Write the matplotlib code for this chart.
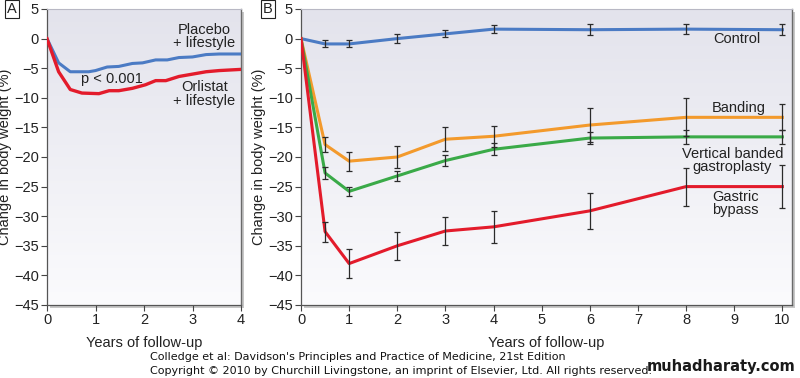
import numpy as np
import matplotlib
matplotlib.use("Agg")
import matplotlib.pyplot as plt
from matplotlib.patches import Rectangle
from matplotlib.colors import LinearSegmentedColormap

# ---------------- Data ----------------
# Panel A
a_years = [0, 0.24, 0.48, 0.86, 1.0, 1.24, 1.48, 1.76, 1.97, 2.24, 2.48, 2.72, 3.0, 3.28, 3.55, 4.0]
a_placebo = [0, -4.1, -5.6, -5.6, -5.4, -4.8, -4.7, -4.2, -4.1, -3.6, -3.6, -3.2, -3.1, -2.7, -2.6, -2.6]
a_orlistat_years = [0, 0.24, 0.48, 0.72, 1.07, 1.28, 1.48, 1.76, 2.03, 2.24, 2.45, 2.72, 3.0, 3.28, 3.55, 4.0]
a_orlistat = [0, -5.6, -8.6, -9.2, -9.3, -8.8, -8.8, -8.4, -7.8, -7.1, -7.1, -6.4, -6.0, -5.6, -5.4, -5.2]

# Panel B
b_years = [0, 0.5, 1, 2, 3, 4, 6, 8, 10]
control = [0, -0.9, -0.9, 0.0, 0.8, 1.6, 1.5, 1.6, 1.5]
control_err = [0, 0.6, 0.6, 0.7, 0.6, 0.7, 0.95, 0.9, 0.95]
banding = [0, -17.9, -20.7, -20.0, -17.0, -16.5, -14.6, -13.3, -13.3]
banding_err = [0, 1.2, 1.6, 1.8, 2.0, 1.8, 2.8, 3.2, 2.2]
vbg = [0, -22.7, -25.8, -23.2, -20.6, -18.7, -16.8, -16.6, -16.6]
vbg_err = [0, 1.0, 0.8, 0.9, 0.9, 1.0, 1.0, 1.2, 1.2]
bypass = [0, -32.6, -38.0, -35.0, -32.5, -31.8, -29.1, -25.0, -25.0]
bypass_err = [0, 1.7, 2.4, 2.4, 2.3, 2.7, 3.0, 3.2, 3.6]

yticks = list(range(-45, 6, 5))

BLUE = "#4b7bc4"
RED = "#e31b2b"
ORANGE = "#f39a2c"
GREEN = "#3aaa48"
ERR = "#2b2b2b"
TXT = "#222222"

plt.rcParams['font.family'] = ['Liberation Sans', 'DejaVu Sans']
plt.rcParams['axes.unicode_minus'] = True

fig = plt.figure(figsize=(8.0, 3.78), dpi=100)
W, H = 800, 378


def fx(px):
    return px / W


def fy(py):
    return 1 - py / H


def make_axes(left_px, right_px, xmax, xticks):
    bottom_px, top_px = 305, 9
    ax = fig.add_axes([fx(left_px), fy(bottom_px), fx(right_px - left_px), (bottom_px - top_px) / H])
    # soft shadow at right/bottom
    sh = Rectangle((fx(left_px) + 3 / W, fy(bottom_px) - 3 / H), fx(right_px - left_px),
                   (bottom_px - top_px) / H, transform=fig.transFigure,
                   facecolor="#9a9a9a", edgecolor="none", alpha=0.55, zorder=-2)
    fig.patches.append(sh)
    ax.set_xlim(0, xmax)
    ax.set_ylim(-45, 5)
    grad = np.linspace(0, 1, 256).reshape(-1, 1)
    cmap = LinearSegmentedColormap.from_list("bg", ["#fbfbfd", "#e3e3ec"])
    ax.imshow(grad, extent=[0, 1, 0, 1], transform=ax.transAxes, cmap=cmap,
              aspect="auto", origin="lower", zorder=0)
    ax.set_xticks(xticks)
    ax.set_yticks(yticks)
    ax.tick_params(direction="out", length=4, width=0.8, color="#444444",
                   labelsize=10.5, labelcolor=TXT, pad=2)
    for s in ["left", "bottom"]:
        ax.spines[s].set_color("#555555")
        ax.spines[s].set_linewidth(0.9)
    ax.spines["right"].set_color("#6a6a6a")
    ax.spines["right"].set_linewidth(1.0)
    ax.spines["top"].set_color("#b8b8c4")
    ax.spines["top"].set_linewidth(0.8)
    ax.set_ylabel("Change in body weight (%)", fontsize=10.5, color=TXT, labelpad=1)
    ax.set_xlabel("Years of follow-up", fontsize=10.5, color=TXT, labelpad=6)
    return ax


# Panel A
axA = make_axes(47, 241, 4, [0, 1, 2, 3, 4])
axA.plot(a_years, a_placebo, color=BLUE, lw=2.2, zorder=3, solid_joinstyle="round")
axA.plot(a_orlistat_years, a_orlistat, color=RED, lw=2.4, zorder=3, solid_joinstyle="round")
axA.text(3.24, 0.35, "Placebo\n+ lifestyle", ha="center", va="center", fontsize=10.5,
         color=TXT, linespacing=0.95)
axA.text(3.24, -9.35, "Orlistat\n+ lifestyle", ha="center", va="center", fontsize=10.5,
         color=TXT, linespacing=0.95)
axA.text(1.34, -6.8, "p < 0.001", ha="center", va="center", fontsize=10.5, color=TXT)

# Panel B
axB = make_axes(301, 792, 10.2, list(range(0, 11)))
series = [(control, control_err, BLUE), (banding, banding_err, ORANGE),
          (vbg, vbg_err, GREEN), (bypass, bypass_err, RED)]
for vals, errs, col in series:
    axB.plot(b_years, vals, color=col, lw=2.2, zorder=3, solid_joinstyle="round")
for vals, errs, col in series:
    axB.errorbar(b_years[1:], vals[1:], yerr=errs[1:], fmt="none", ecolor=ERR,
                 elinewidth=0.9, capsize=2.5, capthick=0.9, zorder=4)

axB.text(9.05, -0.05, "Control", ha="center", va="center", fontsize=10.5, color=TXT)
axB.text(9.1, -11.7, "Banding", ha="center", va="center", fontsize=10.5, color=TXT)
axB.text(8.96, -20.6, "Vertical banded\ngastroplasty", ha="center", va="center",
         fontsize=10.5, color=TXT, linespacing=0.9)
axB.text(9.02, -27.8, "Gastric\nbypass", ha="center", va="center", fontsize=10.5,
         color=TXT, linespacing=0.9)

# Panel letters
box = dict(boxstyle="square,pad=0.12", facecolor="white", edgecolor=TXT, linewidth=0.8)
fig.text(fx(12), fy(9), "A", ha="center", va="center", fontsize=10.5, color=TXT, bbox=box)
fig.text(fx(268), fy(9), "B", ha="center", va="center", fontsize=10.5, color=TXT, bbox=box)

# Caption
fig.text(fx(150), fy(357), "Colledge et al: Davidson's Principles and Practice of Medicine, 21st Edition",
         ha="left", va="center", fontsize=8.0, family="DejaVu Sans", color="#111111")
fig.text(fx(150), fy(371), "Copyright \u00a9 2010 by Churchill Livingstone, an imprint of Elsevier, Ltd. All rights reserved.",
         ha="left", va="center", fontsize=8.0, family="DejaVu Sans", color="#111111")
fig.text(fx(796), fy(366), "muhadharaty.com", ha="right", va="center", fontsize=10.5,
         family="DejaVu Sans", weight="bold", color="#1a1a1a")

fig.savefig("out.png", dpi=100, facecolor="white")
